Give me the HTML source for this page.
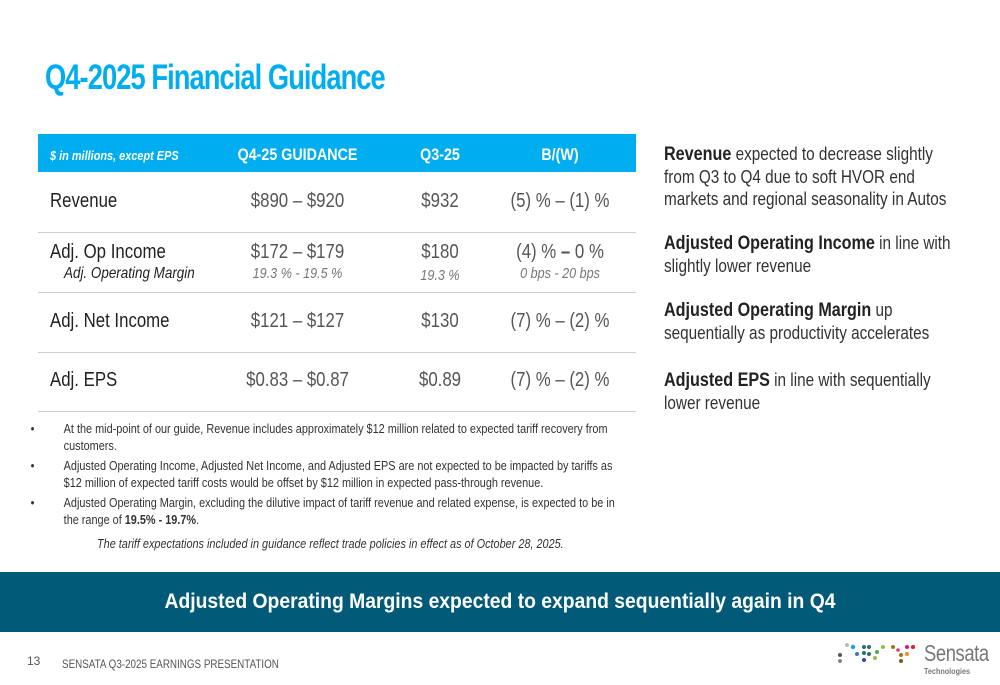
<!DOCTYPE html>
<html><head><meta charset="utf-8"><style>
*{margin:0;padding:0;box-sizing:border-box}
body{width:1000px;height:685px;background:#fff;position:relative;overflow:hidden;font-family:"Liberation Sans",sans-serif;color:#222}
.a{position:absolute;white-space:nowrap}
.s{transform:scaleX(0.84);transform-origin:left top}
.sc{transform:scaleX(0.84);transform-origin:center top}
.title{left:45px;top:58px;font-size:35px;font-weight:bold;color:#00aeef;letter-spacing:-1.2px;transform:scaleX(0.78);transform-origin:left top}
.hdr{left:38px;top:134px;width:598px;height:38px;background:#00aeef}
.hc{top:145px;color:#fff;font-weight:bold;font-size:17px;text-align:center}
.line{left:38px;width:598px;height:1px;background:#d0d0d0}
.lab{left:50px;font-size:20px;color:#222}
.v{font-size:20px;color:#555;text-align:center}
.it{font-style:italic;font-size:15px;color:#777;text-align:center}
.c1{left:210px;width:175px}.c2{left:390px;width:100px}.c3{left:490px;width:140px}
.rt{left:664px;font-size:18px;color:#333;line-height:22px;white-space:normal;width:353px;transform:scaleX(0.85);transform-origin:left top}
.rt b{color:#222;font-size:19px}
.bul{left:28px;width:680px;font-size:12.5px;color:#333;line-height:17px;white-space:normal;transform:scaleX(0.87);transform-origin:left top}
.bul div{position:relative;padding-left:41px;margin-bottom:3px}
.bul div:before{content:"•";position:absolute;left:3px}
.banner{left:0;top:572px;width:1000px;height:60px;background:#005a78}
.bt{left:0;top:572px;width:1000px;color:#fff;font-weight:bold;font-size:21px;text-align:center;line-height:60px;transform:scaleX(0.92);transform-origin:center top}
</style></head><body>
<div class="a title">Q4-2025 Financial Guidance</div>
<div class="a hdr"></div>
<div class="a hc s" style="left:50px;font-size:13px;font-style:italic;top:148px">$ in millions, except EPS</div>
<div class="a hc c1 sc">Q4-25 GUIDANCE</div>
<div class="a hc c2 sc">Q3-25</div>
<div class="a hc c3 sc">B/(W)</div>

<div class="a lab s" style="top:190px">Revenue</div>
<div class="a v c1 sc" style="top:190px">$890 – $920</div>
<div class="a v c2 sc" style="top:190px">$932</div>
<div class="a v c3 sc" style="top:190px">(5) % – (1) %</div>
<div class="a line" style="top:232px"></div>

<div class="a lab s" style="top:241px">Adj. Op Income</div>
<div class="a lab s" style="top:265px;left:64px;font-size:16px;font-style:italic">Adj. Operating Margin</div>
<div class="a v c1 sc" style="top:241px">$172 – $179</div>
<div class="a it c1 sc" style="top:265px">19.3 % - 19.5 %</div>
<div class="a v c2 sc" style="top:241px">$180</div>
<div class="a it c2 sc" style="top:267px">19.3 %</div>
<div class="a v c3 sc" style="top:241px">(4) % <b style="color:#555">–</b> 0 %</div>
<div class="a it c3 sc" style="top:265px">0 bps - 20 bps</div>
<div class="a line" style="top:292px"></div>

<div class="a lab s" style="top:310px">Adj. Net Income</div>
<div class="a v c1 sc" style="top:310px">$121 – $127</div>
<div class="a v c2 sc" style="top:310px">$130</div>
<div class="a v c3 sc" style="top:310px">(7) % – (2) %</div>
<div class="a line" style="top:352px"></div>

<div class="a lab s" style="top:369px">Adj. EPS</div>
<div class="a v c1 sc" style="top:369px">$0.83 – $0.87</div>
<div class="a v c2 sc" style="top:369px">$0.89</div>
<div class="a v c3 sc" style="top:369px">(7) % – (2) %</div>
<div class="a line" style="top:411px"></div>

<div class="a bul" style="top:421px">
<div>At the mid-point of our guide, Revenue includes approximately $12 million related to expected tariff recovery from customers.</div>
<div>Adjusted Operating Income, Adjusted Net Income, and Adjusted EPS are not expected to be impacted by tariffs as $12 million of expected tariff costs would be offset by $12 million in expected pass-through revenue.</div>
<div>Adjusted Operating Margin, excluding the dilutive impact of tariff revenue and related expense, is expected to be in the range of <b>19.5% - 19.7%</b>.</div>
</div>
<div class="a" style="left:97px;top:537px;font-size:12.5px;font-style:italic;color:#333;transform:scaleX(0.87);transform-origin:left top">The tariff expectations included in guidance reflect trade policies in effect as of October 28, 2025.</div>

<div class="a rt" style="top:143px"><b>Revenue</b> expected to decrease slightly from Q3 to Q4 due to soft HVOR end markets and regional seasonality in Autos</div>
<div class="a rt" style="top:232px"><b>Adjusted Operating Income</b> in line with slightly lower revenue</div>
<div class="a rt" style="top:299px"><b>Adjusted Operating Margin</b> up sequentially as productivity accelerates</div>
<div class="a rt" style="top:369px"><b>Adjusted EPS</b> in line with sequentially lower revenue</div>

<div class="a banner"></div>
<div class="a bt">Adjusted Operating Margins expected to expand sequentially again in Q4</div>
<div class="a" style="left:27px;top:654px;font-size:12px;color:#555">13</div>
<div class="a" style="left:62px;top:657px;font-size:12px;color:#555;transform:scaleX(0.82);transform-origin:left top">SENSATA  Q3-2025 EARNINGS PRESENTATION</div>
<svg class="a" style="left:835px;top:640px" width="80" height="30">
<circle cx="5" cy="15" r="2" fill="#555"/><circle cx="5" cy="21" r="2" fill="#888"/><circle cx="12" cy="5" r="2" fill="#bbb"/>
<circle cx="18" cy="7" r="2.2" fill="#1aa3dc"/><circle cx="22" cy="14" r="2" fill="#3b78c2"/><circle cx="29" cy="7" r="2" fill="#2a6f6f"/>
<circle cx="34" cy="7" r="2" fill="#2a6f6f"/><circle cx="29" cy="13" r="2" fill="#2a6f6f"/><circle cx="34" cy="14" r="2" fill="#2a6f6f"/>
<circle cx="29" cy="20" r="2" fill="#3344aa"/><circle cx="42" cy="12" r="2" fill="#4cae4c"/><circle cx="40" cy="18" r="2" fill="#8bc34a"/>
<circle cx="48" cy="7" r="2" fill="#8bc34a"/><circle cx="58" cy="7" r="2" fill="#a0751e"/><circle cx="66" cy="15" r="2" fill="#a0751e"/>
<circle cx="66" cy="21" r="2" fill="#7a5a1e"/><circle cx="72" cy="7" r="2" fill="#e0157a"/><circle cx="72" cy="14" r="2" fill="#f28c28"/>
<circle cx="78" cy="7" r="2" fill="#e02020"/><circle cx="63" cy="10" r="1.8" fill="#d04080"/>
</svg>
<div class="a" style="left:924px;top:640px;font-size:23px;color:#777;letter-spacing:-0.5px;transform:scaleX(0.8);transform-origin:left top">Sensata</div>
<div class="a" style="left:924px;top:666px;font-size:8.5px;font-weight:bold;color:#777;transform:scaleX(0.85);transform-origin:left top">Technologies</div>
</body></html>
